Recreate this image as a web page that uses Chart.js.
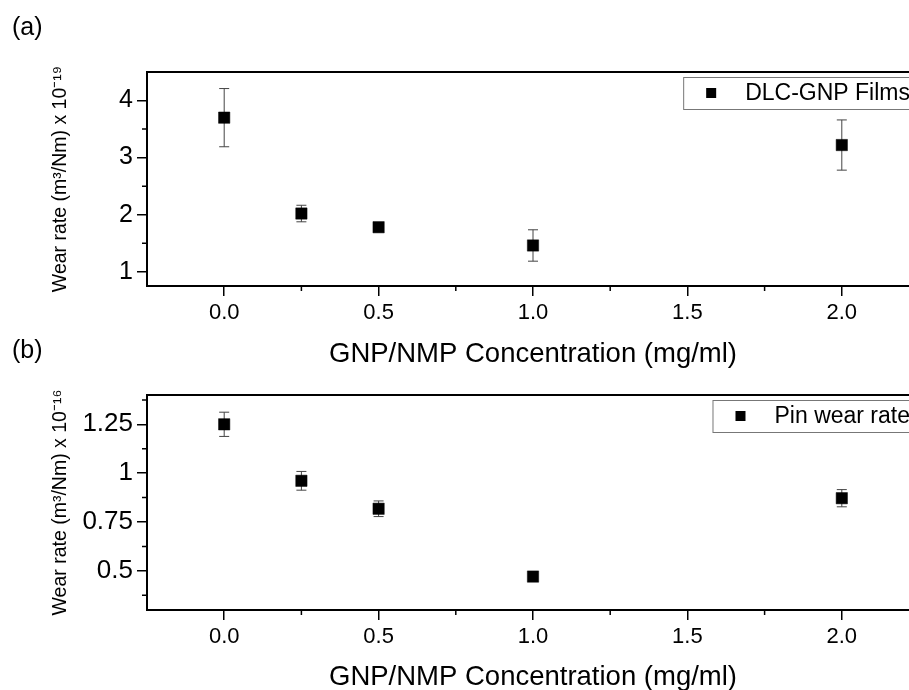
<!DOCTYPE html>
<html><head><meta charset="utf-8">
<script src="https://cdn.jsdelivr.net/npm/chart.js@4.4.0/dist/chart.umd.min.js"></script>
<style>
html,body{margin:0;padding:0;background:#fff;overflow:hidden;width:909px;height:690px;position:relative;}
canvas{position:absolute;left:0;}
</style></head><body>
<canvas id="chartA" width="930" height="371" style="top:0;width:930px;height:371px"></canvas>
<canvas id="chartB" width="930" height="364" style="top:330px;width:930px;height:364px"></canvas>
<script>
// ---- data ----
const concentrations = [0, 0.25, 0.5, 1.0, 2.0];
const filmWearRate  = [3.70, 2.02, 1.78, 1.46, 3.22];
const filmWearError = [0.51, 0.145, 0.04, 0.275, 0.44];
const pinWearRate   = [1.25, 0.961, 0.818, 0.471, 0.872];
const pinWearError  = [0.062, 0.048, 0.04, 0.01, 0.044];

const xTickValues = [0, 0.5, 1.0, 1.5, 2.0];
const xTickLabels = ['0.0', '0.5', '1.0', '1.5', '2.0'];
const xMinorTicks = [0.25, 0.75, 1.25, 1.75];
const filmTickValues = [1, 2, 3, 4];
const filmTickLabels = ['1', '2', '3', '4'];
const filmMinorTicks = [1.5, 2.5, 3.5];
const pinTickValues = [0.5, 0.75, 1, 1.25];
const pinTickLabels = ['0.5', '0.75', '1', '1.25'];
const pinMinorTicks = [0.375, 0.625, 0.875, 1.125, 1.375];

const FONT = "'Liberation Sans', Arial, Helvetica, sans-serif";
Chart.defaults.font.family = FONT;
Chart.defaults.color = '#000';

const decorPlugin = {
  id: 'decor',
  beforeDatasetsDraw(chart) {
    const o = chart.options.plugins.decor;
    const ctx = chart.ctx, xs = chart.scales.x, ys = chart.scales.y;
    ctx.save();
    ctx.strokeStyle = '#444';
    ctx.lineWidth = 1;
    const ds = chart.data.datasets[0].data;
    ds.forEach((p, i) => {
      const e = o.errors[i];
      const px = xs.getPixelForValue(p.x);
      const top = ys.getPixelForValue(p.y + e);
      const bot = ys.getPixelForValue(p.y - e);
      ctx.beginPath();
      ctx.moveTo(px, top); ctx.lineTo(px, bot);
      ctx.moveTo(px - 5, top); ctx.lineTo(px + 5, top);
      ctx.moveTo(px - 5, bot); ctx.lineTo(px + 5, bot);
      ctx.stroke();
    });
    ctx.restore();
  },
  afterDraw(chart) {
    const o = chart.options.plugins.decor;
    const ctx = chart.ctx, a = chart.chartArea, xs = chart.scales.x, ys = chart.scales.y;
    ctx.save();
    // frame
    ctx.strokeStyle = '#000';
    ctx.lineWidth = 2;
    ctx.strokeRect(a.left, a.top, a.right - a.left, a.bottom - a.top);
    // minor ticks
    ctx.lineWidth = 1.5;
    ctx.beginPath();
    o.xMinor.forEach(v => {
      const px = xs.getPixelForValue(v);
      ctx.moveTo(px, a.bottom); ctx.lineTo(px, a.bottom + 5);
    });
    o.yMinor.forEach(v => {
      const py = ys.getPixelForValue(v);
      ctx.moveTo(a.left - 5, py); ctx.lineTo(a.left, py);
    });
    ctx.stroke();
    // legend
    const label = chart.data.datasets[0].label;
    ctx.font = '23px ' + FONT;
    const tw = ctx.measureText(label).width;
    const boxRight = a.right - 4;
    const textX = boxRight - 5 - tw;
    const boxLeft = textX - 62;
    const boxTop = a.top + 5;
    const boxH = 32;
    ctx.fillStyle = '#fff';
    ctx.fillRect(boxLeft, boxTop, boxRight - boxLeft, boxH);
    ctx.strokeStyle = '#777';
    ctx.lineWidth = 1;
    ctx.strokeRect(boxLeft + 0.5, boxTop + 0.5, boxRight - boxLeft, boxH);
    ctx.fillStyle = '#000';
    ctx.fillRect(textX - 34 - 5, boxTop + boxH / 2 - 5, 10, 10);
    ctx.textBaseline = 'middle';
    ctx.textAlign = 'left';
    ctx.fillText(label, textX, boxTop + boxH / 2 + 1);
    ctx.restore();
  }
};

function makeChart(id, cfg) {
  const points = concentrations.map((x, i) => ({x: x, y: cfg.values[i]}));
  return new Chart(document.getElementById(id), {
    type: 'scatter',
    data: {
      datasets: [{
        label: cfg.label,
        data: points,
        pointStyle: 'rect',
        pointRadius: 8,
        backgroundColor: '#000',
        borderColor: '#000',
        borderWidth: 0.5,
        showLine: false
      }]
    },
    options: {
      responsive: false,
      animation: false,
      events: [],
      layout: {padding: {left: 12, right: 11, top: 0, bottom: 0}},
      plugins: {
        legend: {display: false},
        tooltip: {enabled: false},
        title: {
          display: true, text: cfg.panel, align: 'start', color: '#000',
          font: {size: 25, weight: 'normal', family: FONT, lineHeight: 1.2},
          padding: {top: cfg.titleTop, bottom: cfg.titleBottom}
        },
        decor: {errors: cfg.errors, xMinor: xMinorTicks, yMinor: cfg.yMinor}
      },
      scales: {
        x: {
          type: 'linear', min: -0.25, max: 2.25,
          afterBuildTicks: s => { s.ticks = xTickValues.map(v => ({value: v})); },
          afterFit: s => { s.height = cfg.xAxisHeight; },
          ticks: {
            font: {size: 22, family: FONT}, color: '#000', padding: 4,
            maxRotation: 0, autoSkip: false,
            callback: (v, i) => xTickLabels[i]
          },
          grid: {drawOnChartArea: false, drawTicks: true, tickLength: 10, color: '#000', lineWidth: 1.5},
          border: {display: true, color: '#000', width: 2},
          title: {
            display: true, text: 'GNP/NMP Concentration (mg/ml)', color: '#000',
            font: {size: 27.5, family: FONT}, padding: {top: 0, bottom: 0}
          }
        },
        y: {
          type: 'linear', min: cfg.yMin, max: cfg.yMax,
          afterBuildTicks: s => { s.ticks = cfg.yTicks.map(v => ({value: v})); },
          afterFit: s => { s.width = 135; },
          ticks: {
            font: {size: cfg.yFont, family: FONT}, color: '#000', padding: 4,
            autoSkip: false,
            callback: (v, i) => cfg.yLabels[i]
          },
          grid: {drawOnChartArea: false, drawTicks: true, tickLength: 10, color: '#000', lineWidth: 1.5},
          border: {display: true, color: '#000', width: 2},
          title: {
            display: true, text: cfg.yTitle, color: '#000',
            font: {size: 19.5, family: FONT}, padding: {top: 37, bottom: 0}
          }
        }
      }
    },
    plugins: [decorPlugin]
  });
}

makeChart('chartA', {
  panel: '(a)', label: 'DLC-GNP Films',
  values: filmWearRate, errors: filmWearError,
  yMin: 0.75, yMax: 4.5, yTicks: filmTickValues, yLabels: filmTickLabels, yMinor: filmMinorTicks,
  yFont: 25, yTitle: 'Wear rate (m\u00B3/Nm) x 10\u207B\u00B9\u2079',
  titleTop: 13, titleBottom: 29, xAxisHeight: 85
});
makeChart('chartB', {
  panel: '(b)', label: 'Pin wear rate',
  values: pinWearRate, errors: pinWearError,
  yMin: 0.3, yMax: 1.4, yTicks: pinTickValues, yLabels: pinTickLabels, yMinor: pinMinorTicks,
  yFont: 26, yTitle: 'Wear rate (m\u00B3/Nm) x 10\u207B\u00B9\u2076',
  titleTop: 6, titleBottom: 29, xAxisHeight: 84
});
</script>
</body></html>
